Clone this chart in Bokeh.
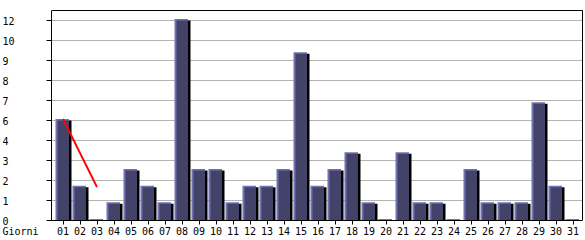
from bokeh.plotting import figure
from bokeh.models import (ColumnDataSource, FixedTicker, LabelSet, Label, Range1d,
                          CustomJSTickFormatter, LinearAxis)
from bokeh.core.properties import value
from bokeh.embed import file_html
from bokeh.resources import INLINE
import numpy as np

# ---- data ----
day_labels = [f"{d:02d}" for d in range(1, 32)]
day_numbers = list(range(1, 32))
visits = [6, 2, 0, 1, 3, 2, 1, 12, 3, 3, 1, 2, 2, 3, 10, 2, 3, 4, 1, 0,
          4, 1, 1, 0, 3, 1, 1, 1, 7, 2, 0]
trend_days = [1, 3]
trend_values = [6.1, 2.0]
y_tick_values = [0, 1.2, 2.4, 3.6, 4.8, 6.0, 7.2, 8.4, 9.6, 10.8, 12.0]
y_tick_labels = ["0", "1", "2", "3", "4", "6", "7", "8", "9", "10", "12"]
x_title = "Giorni"

# ---- layout / style (pixels) ----
W, H = 585, 240
B_RIGHT, B_TOP = 3, 10
frame_w = W - B_RIGHT            # frame spans from canvas left
frame_h = H - B_TOP              # frame spans to canvas bottom
PX_PER_DAY = 17.0
FIRST_DAY_PX = 62.5              # centre of the first bar
AXIS_PX = 50.5                   # where the value axis sits
ZERO_PX_FROM_BOTTOM = 20         # value 0 sits 20 px above canvas bottom
PX_PER_UNIT = 200 / 12.0

ux = 1.0 / PX_PER_DAY
uy = 1.0 / PX_PER_UNIT
x_start = 1 - FIRST_DAY_PX * ux
x_end = x_start + frame_w * ux
x_axis = x_start + AXIS_PX * ux
y_start = -ZERO_PX_FROM_BOTTOM * uy
y_end = y_start + frame_h * uy

FONT = "DejaVu Sans Mono"
FONT_SIZE = "10px"
FILL = "#434369"
HILITE = "#7171b3"
SHADOW = "#000000"
GRID = "#b4b4b4"

p = figure(width=W, height=H, x_range=Range1d(x_start, x_end),
           y_range=Range1d(y_start, y_end), output_backend="svg",
           toolbar_location=None, min_border_left=0,
           min_border_right=B_RIGHT, min_border_top=B_TOP,
           min_border_bottom=0)
p.background_fill_color = "white"
p.border_fill_color = "white"
p.outline_line_color = None

d = np.array(day_numbers, dtype=float)
v = np.array(visits, dtype=float)

hl = ColumnDataSource(dict(left=d - 7.5 * ux, right=d + 6 * ux,
                           top=v + 1.5 * uy, bottom=np.zeros_like(v)))
fl = ColumnDataSource(dict(left=d - 5.5 * ux, right=d + 6 * ux,
                           top=v, bottom=np.zeros_like(v)))
sh = ColumnDataSource(dict(left=d + 6 * ux, right=d + 8.5 * ux,
                           top=v, bottom=np.zeros_like(v)))
p.quad(left="left", right="right", top="top", bottom="bottom", source=hl,
       fill_color=HILITE, line_color=None)
p.quad(left="left", right="right", top="top", bottom="bottom", source=fl,
       fill_color=FILL, line_color=None)
p.quad(left="left", right="right", top="top", bottom="bottom", source=sh,
       fill_color=SHADOW, line_color=None)

p.line(trend_days, trend_values, line_color="#ff0000", line_width=2)

# x axis (days)
xa = p.xaxis[0]
xa.fixed_location = 0
xa.bounds = (x_axis, x_end)
xa.ticker = FixedTicker(ticks=day_numbers)
xa.major_label_overrides = {n: lab for n, lab in zip(day_numbers, day_labels)}
xa.major_tick_in = 0
xa.major_tick_out = 4
xa.minor_tick_line_color = None
xa.axis_line_color = "black"
xa.major_tick_line_color = "black"
xa.major_label_text_font = FONT
xa.major_label_text_font_size = FONT_SIZE
xa.major_label_text_color = "black"
xa.major_label_standoff = 2

# y axis (values); labels are drawn left-aligned by the LabelSet below
ya = p.yaxis[0]
ya.fixed_location = x_axis
ya.bounds = (0, y_end)
ya.ticker = FixedTicker(ticks=y_tick_values)
ya.formatter = CustomJSTickFormatter(code="return ''")
ya.major_tick_in = 0
ya.major_tick_out = 5
ya.minor_tick_line_color = None
ya.axis_line_color = "black"
ya.major_tick_line_color = "black"

# top and right frame borders
top_axis = LinearAxis(ticker=FixedTicker(ticks=[]), bounds=(x_axis, x_end),
                      major_tick_line_color=None, minor_tick_line_color=None,
                      formatter=CustomJSTickFormatter(code="return ''"),
                      axis_line_color="black")
right_axis = LinearAxis(ticker=FixedTicker(ticks=[]), bounds=(0, y_end),
                        major_tick_line_color=None, minor_tick_line_color=None,
                        formatter=CustomJSTickFormatter(code="return ''"),
                        axis_line_color="black")
p.add_layout(top_axis, "above")
p.add_layout(right_axis, "right")

p.xgrid.visible = False
p.ygrid.ticker = FixedTicker(ticks=y_tick_values[1:])
p.ygrid.cross_bounds = (x_axis, x_end)
p.ygrid.grid_line_color = GRID

ylab_src = ColumnDataSource(dict(y=y_tick_values, text=y_tick_labels))
p.add_layout(LabelSet(x=2, y="y", text="text", x_units="screen",
                      y_units="data", source=ylab_src, text_align="left",
                      text_baseline="middle", text_font=value(FONT),
                      text_font_size=FONT_SIZE, text_color="black"))
p.add_layout(Label(x=2, y=-11 * uy, x_units="screen", y_units="data",
                   text=x_title, text_align="left", text_baseline="middle",
                   text_font=FONT, text_font_size=FONT_SIZE,
                   text_color="black"))

open("out.html", "w").write(file_html(p, INLINE))
